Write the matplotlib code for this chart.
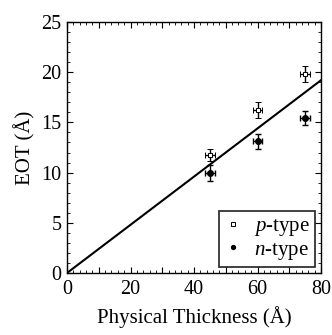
import matplotlib
matplotlib.use("Agg")
import matplotlib.pyplot as plt
from matplotlib.ticker import MultipleLocator

plt.rcParams['font.family'] = ['Liberation Serif', 'DejaVu Serif']
plt.rcParams['mathtext.fontset'] = 'custom'
plt.rcParams['mathtext.rm'] = 'Liberation Serif'
plt.rcParams['mathtext.it'] = 'Liberation Serif:italic'

thickness = [45, 60, 75]
eot_p = [11.8, 16.2, 19.8]
eot_n = [10.0, 13.1, 15.4]
xerr = [1.5, 1.5, 1.5]
yerr_p = [0.6, 0.8, 0.8]
yerr_n = [0.8, 0.7, 0.7]
fit_x = [0, 80]
fit_slope = 0.24

fig = plt.figure(figsize=(3.32, 3.35), dpi=100)
ax = fig.add_axes([67/332, 1-273/335, 254/332, 251/335])

ax.plot(fit_x, [fit_slope * v for v in fit_x], color='black', lw=1.5, zorder=2)
ax.errorbar(thickness, eot_p, xerr=xerr, yerr=yerr_p, fmt='s', ms=3.5, mfc='white',
            mec='black', mew=0.7, ecolor='black', elinewidth=1, capsize=2, capthick=1,
            label='$\\it{p}$-type', zorder=3)
ax.errorbar(thickness, eot_n, xerr=xerr, yerr=yerr_n, fmt='o', ms=4, mfc='black',
            mec='black', ecolor='black', elinewidth=1, capsize=2, capthick=1,
            label='$\\it{n}$-type', zorder=3)

ax.set_xlim(0, 80)
ax.set_ylim(0, 25)
ax.set_xticks([0, 10, 20, 30, 40, 50, 60, 70, 80],
              labels=['0', '', '20', '', '40', '', '60', '', '80'])
ax.xaxis.set_minor_locator(MultipleLocator(2))
ax.yaxis.set_major_locator(MultipleLocator(5))
ax.yaxis.set_minor_locator(MultipleLocator(1))
ax.tick_params(which='both', direction='in', top=True, right=True, labelsize=14.5)
ax.tick_params(axis='x', pad=5)
ax.tick_params(axis='y', pad=4)
ax.tick_params(which='major', length=4, width=0.8)
ax.tick_params(which='minor', length=2, width=0.6)
for s in ax.spines.values():
    s.set_linewidth(1.0)

ax.set_xlabel('Physical Thickness (Å)', fontsize=15, labelpad=5)
ax.set_ylabel('EOT (Å)', fontsize=15, labelpad=4)

h, l = ax.get_legend_handles_labels()
leg = ax.legend([hh[0] for hh in h], l, loc='lower right', fontsize=15, frameon=True,
                fancybox=False, edgecolor='black', handlelength=0.8, handletextpad=0.6,
                borderpad=0.25, labelspacing=0.1, borderaxespad=0.3, markerscale=0.7)
leg.get_frame().set_linewidth(1.3)

fig.savefig('out.png', dpi=100)
